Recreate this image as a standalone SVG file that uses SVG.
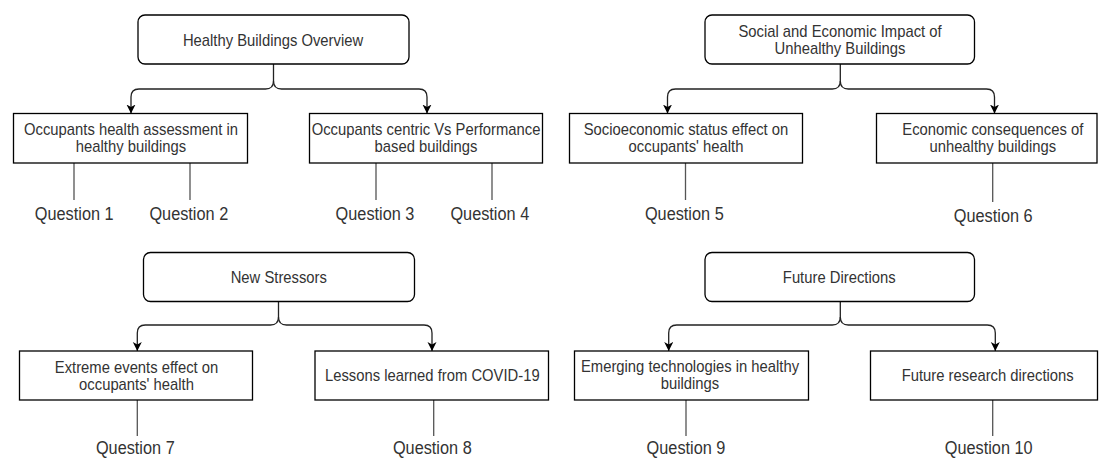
<svg xmlns="http://www.w3.org/2000/svg" width="1099" height="458" viewBox="0 0 1099 458">
<defs>
<style>
.root{fill:#fff;stroke:#000;stroke-width:1.3}
.box{fill:#fff;stroke:#000;stroke-width:1.3}
.lbl{font-family:"Liberation Sans",Arial,sans-serif;font-size:16px;fill:#333;text-anchor:middle}
.q{font-family:"Liberation Sans",Arial,sans-serif;font-size:17.6px;fill:#333;text-anchor:middle}
.edge{fill:none;stroke:#222;stroke-width:1.3}
.ql{fill:none;stroke:#555;stroke-width:1.3}
</style>
<marker id="arr" markerWidth="10" markerHeight="10" refX="9" refY="4.5" orient="auto" markerUnits="userSpaceOnUse">
<path d="M0,0 L9,4.5 L0,9 L2.5,4.5 z" fill="#000"/>
</marker>
</defs>
<rect width="1099" height="458" fill="#fff"/>

<g id="connectors">
<path class="edge" d="M273.5,64 V81 Q273.5,89 265.5,89 H139 Q131,89 131,97 V113.5" marker-end="url(#arr)"/>
<path class="edge" d="M273.5,81 Q273.5,89 281.5,89 H419 Q427,89 427,97 V113.5" marker-end="url(#arr)"/>
<path class="edge" d="M840.3,64 V81 Q840.3,89 832.3,89 H675.5 Q667.5,89 667.5,97 V113.5" marker-end="url(#arr)"/>
<path class="edge" d="M840.3,81 Q840.3,89 848.3,89 H986.5 Q994.5,89 994.5,97 V113.5" marker-end="url(#arr)"/>
<path class="edge" d="M278.5,301.5 V317 Q278.5,325 270.5,325 H145.3 Q137.3,325 137.3,333 V351" marker-end="url(#arr)"/>
<path class="edge" d="M278.5,317 Q278.5,325 286.5,325 H424 Q432,325 432,333 V351" marker-end="url(#arr)"/>
<path class="edge" d="M840.3,301.5 V317 Q840.3,325 832.3,325 H676.7 Q668.7,325 668.7,333 V351" marker-end="url(#arr)"/>
<path class="edge" d="M840.3,317 Q840.3,325 848.3,325 H987.3 Q995.3,325 995.3,333 V351" marker-end="url(#arr)"/>
<path class="ql" d="M74,163 V200 M190,163 V200 M376,163 V200 M492,163 V200 M685.5,163 V200 M992.7,163 V202"/>
<path class="ql" d="M137.3,400 V436 M433.7,400 V436 M686,400 V436 M992.7,400 V436"/>
</g>

<g id="n-healthy-overview">
<rect class="root" x="138" y="15" width="271" height="49" rx="7"/>
<text class="lbl" transform="translate(273 45.5) scale(0.926 1)">Healthy Buildings Overview</text>
</g>
<g id="n-occ-health">
<rect class="box" x="13.5" y="113.5" width="234" height="49.5"/>
<text class="lbl" transform="translate(131 134.5) scale(0.926 1)">Occupants health assessment in</text>
<text class="lbl" transform="translate(131 152) scale(0.926 1)">healthy buildings</text>
</g>
<g id="n-occ-centric">
<rect class="box" x="309.5" y="113.5" width="233" height="49.5"/>
<text class="lbl" transform="translate(426 134.5) scale(0.926 1)">Occupants centric Vs Performance</text>
<text class="lbl" transform="translate(426 152) scale(0.926 1)">based buildings</text>
</g>
<g id="q1"><text class="q" transform="translate(74.2 220) scale(0.926 1)">Question 1</text></g>
<g id="q2"><text class="q" transform="translate(188.8 220) scale(0.926 1)">Question 2</text></g>
<g id="q3"><text class="q" transform="translate(375 220) scale(0.926 1)">Question 3</text></g>
<g id="q4"><text class="q" transform="translate(489.8 220) scale(0.926 1)">Question 4</text></g>

<g id="n-social-economic">
<rect class="root" x="705" y="15" width="269.5" height="49" rx="7"/>
<text class="lbl" transform="translate(840 37) scale(0.926 1)">Social and Economic Impact of</text>
<text class="lbl" transform="translate(840 54.3) scale(0.926 1)">Unhealthy Buildings</text>
</g>
<g id="n-socioeconomic">
<rect class="box" x="569.5" y="113.5" width="233" height="49.5"/>
<text class="lbl" transform="translate(686 134.5) scale(0.926 1)">Socioeconomic status effect on</text>
<text class="lbl" transform="translate(686 152) scale(0.926 1)">occupants' health</text>
</g>
<g id="n-econ-consequences">
<rect class="box" x="876.5" y="113.5" width="220.5" height="49.5"/>
<text class="lbl" transform="translate(992.8 134.5) scale(0.926 1)">Economic consequences of</text>
<text class="lbl" transform="translate(992.8 152) scale(0.926 1)">unhealthy buildings</text>
</g>
<g id="q5"><text class="q" transform="translate(684.3 220) scale(0.926 1)">Question 5</text></g>
<g id="q6"><text class="q" transform="translate(993.2 222.2) scale(0.926 1)">Question 6</text></g>

<g id="n-new-stressors">
<rect class="root" x="143.5" y="252.5" width="271" height="49" rx="7"/>
<text class="lbl" transform="translate(278.8 283) scale(0.926 1)">New Stressors</text>
</g>
<g id="n-extreme-events">
<rect class="box" x="19.5" y="351" width="233" height="49"/>
<text class="lbl" transform="translate(136.5 373) scale(0.926 1)">Extreme events effect on</text>
<text class="lbl" transform="translate(136.5 390.3) scale(0.926 1)">occupants' health</text>
</g>
<g id="n-covid">
<rect class="box" x="315" y="351" width="233.5" height="49"/>
<text class="lbl" transform="translate(432.3 381) scale(0.926 1)">Lessons learned from COVID-19</text>
</g>
<g id="q7"><text class="q" transform="translate(135.3 454) scale(0.926 1)">Question 7</text></g>
<g id="q8"><text class="q" transform="translate(432.3 454) scale(0.926 1)">Question 8</text></g>

<g id="n-future-directions">
<rect class="root" x="705" y="252.5" width="269.5" height="49" rx="7"/>
<text class="lbl" transform="translate(839.2 283) scale(0.926 1)">Future Directions</text>
</g>
<g id="n-emerging-tech">
<rect class="box" x="574.5" y="351" width="234" height="49"/>
<text class="lbl" transform="translate(690 372) scale(0.926 1)">Emerging technologies in healthy</text>
<text class="lbl" transform="translate(690 389.3) scale(0.926 1)">buildings</text>
</g>
<g id="n-future-research">
<rect class="box" x="870.5" y="351" width="227" height="49"/>
<text class="lbl" transform="translate(987.7 381) scale(0.926 1)">Future research directions</text>
</g>
<g id="q9"><text class="q" transform="translate(686 454) scale(0.926 1)">Question 9</text></g>
<g id="q10"><text class="q" transform="translate(988.7 454) scale(0.926 1)">Question 10</text></g>
</svg>
